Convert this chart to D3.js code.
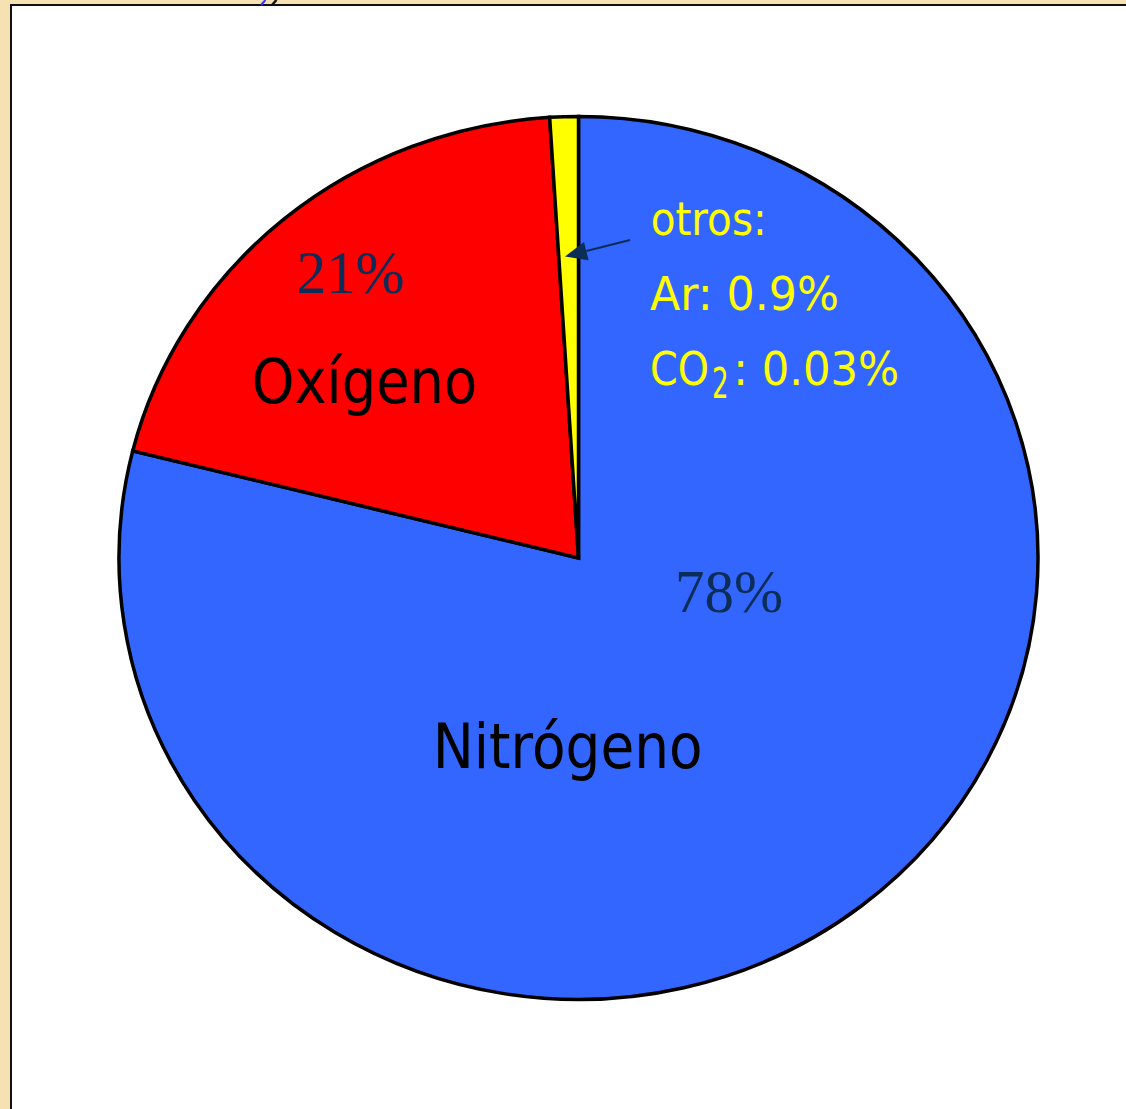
<!DOCTYPE html>
<html>
<head>
<meta charset="utf-8">
<script src="https://cdn.jsdelivr.net/npm/d3@7"></script>
<style>
  html, body { margin: 0; padding: 0; background: #F5E1B2; }
  svg { display: block; }
</style>
</head>
<body>
<script>
// ---- data ----
const categories = ["Nitrógeno", "Oxígeno", "otros"];
const values = [78.9, 20.1, 1.0];           // slice sizes as drawn
const percentLabels = ["78%", "21%"];
const otherLines = ["otros:", "Ar: 0.9%"];
const co2Parts = ["CO", "2", ": 0.03%"];
const colors = ["#3366FF", "#FF0000", "#FFFF00"];

// ---- layout ----
const W = 1126, H = 1109;
const cx = 578.5, cy = 558, rx = 459.5, ry = 441.5;

const svg = d3.select("body").append("svg").attr("width", W).attr("height", H);

// frame
svg.append("rect").attr("x", 11).attr("y", 5).attr("width", 1300).attr("height", 1300)
  .attr("fill", "#fff").attr("stroke", "#111").attr("stroke-width", 2);
// small cut-off marks at top
svg.append("line").attr("x1", 261).attr("y1", 5).attr("x2", 265.5).attr("y2", 0)
  .attr("stroke", "#3333ff").attr("stroke-width", 2);
svg.append("line").attr("x1", 272).attr("y1", 5).attr("x2", 276.5).attr("y2", 0)
  .attr("stroke", "#111").attr("stroke-width", 2.5);

// pie
const pie = d3.pie().sort(null).value(d => d.v);
const data = categories.map((c, i) => ({ c, v: values[i], col: colors[i] }));
const arcs = pie(data);
const arc = d3.arc().innerRadius(0).outerRadius(ry);

const g = svg.append("g").attr("transform", `translate(${cx},${cy}) scale(${rx / ry},1)`);
g.selectAll("path").data(arcs).join("path")
  .attr("d", arc)
  .attr("fill", d => d.data.col)
  .attr("stroke", "#000")
  .attr("stroke-width", 3.5)
  .attr("stroke-linejoin", "miter")
  .attr("vector-effect", "non-scaling-stroke");

const serif = "'Liberation Serif', 'Times New Roman', serif";
const sans = "'DejaVu Sans', Verdana, sans-serif";
const navy = "#0c2d58";
const yellow = "#FFFF00";

// text helper: draws text at (x, baseline y), horizontally scaled to width w (and optional vertical scale)
function txt(s, x, y, size, family, fill, w, sy) {
  const t = svg.append("text").attr("x", 0).attr("y", 0)
    .attr("font-size", size).attr("font-family", family).attr("fill", fill).text(s);
  const nat = t.node().getComputedTextLength();
  const sx = w / nat;
  t.attr("transform", `translate(${x},${y}) scale(${sx},${sy || 1})`);
  return t;
}

txt(percentLabels[1], 296.7, 293.3, 61, serif, navy, 108);
txt(categories[1], 251.7, 403.3, 62, sans, "#000", 225.6);
txt(percentLabels[0], 675, 611.7, 61, serif, navy, 108);
txt(categories[0], 432.7, 768.3, 62, sans, "#000", 270);

txt(otherLines[0], 650.7, 235, 46, sans, yellow, 116);
txt(otherLines[1], 650, 310, 46, sans, yellow, 189);
txt(co2Parts[0], 650, 385, 46, sans, yellow, 59);
txt(co2Parts[1], 712, 398.3, 33, sans, yellow, 16.6, 1.28);   // subscript
txt(co2Parts[2], 733.3, 385, 46, sans, yellow, 166);

// annotation arrow
const a0 = [630, 240], tip = [565, 256.5];
const dx = tip[0] - a0[0], dy = tip[1] - a0[1], L = Math.hypot(dx, dy);
const ux = dx / L, uy = dy / L, hl = 22, hw = 9.5;
const base = [tip[0] - ux * hl, tip[1] - uy * hl];
svg.append("line").attr("x1", a0[0]).attr("y1", a0[1]).attr("x2", base[0]).attr("y2", base[1])
  .attr("stroke", navy).attr("stroke-width", 2);
svg.append("path")
  .attr("d", d3.line()([tip, [base[0] - uy * hw, base[1] + ux * hw], [base[0] + uy * hw, base[1] - ux * hw]]) + "Z")
  .attr("fill", navy);
</script>
</body>
</html>
